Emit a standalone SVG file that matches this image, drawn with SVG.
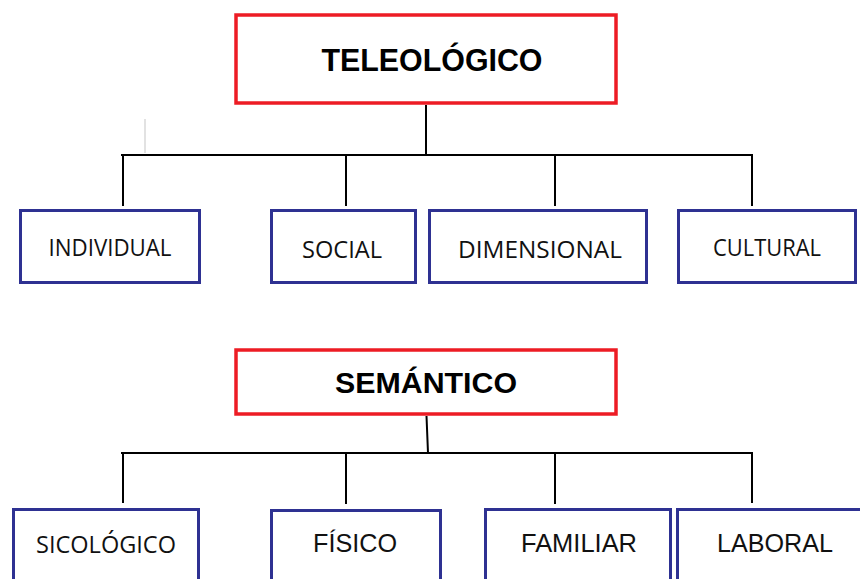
<svg xmlns="http://www.w3.org/2000/svg" width="860" height="579" viewBox="0 0 860 579">
<style>
.main{fill:#fff;stroke:#ed1c24;stroke-width:3.5}
.sub{fill:#fff;stroke:#2e3192;stroke-width:3}
.con{fill:none;stroke:#000;stroke-width:2}
.tb{font-family:"Liberation Sans",Arial,sans-serif;font-weight:bold;fill:#000;text-anchor:middle}
.tc{font-family:"Open Sans","Liberation Sans",sans-serif;font-size:23.5px;fill:#111;text-anchor:middle}
.ta{font-family:"Liberation Sans",Arial,sans-serif;font-size:25px;fill:#111;text-anchor:middle}
</style>
<rect width="860" height="579" fill="#fff"/>
<g id="connectors">
<path class="con" d="M426 105V155M121 155H753M123 155V206M346 155V206M555 155V206M752 155V206"/>
<line x1="145" y1="119" x2="145" y2="153" stroke="#d9d9d9" stroke-width="1.5"/>
<path class="con" d="M426.5 416L428 453M121 453H753M123 453V503M346 453V504M555 453V504M752 453V503"/>
</g>
<g id="teleologico">
<rect class="main" x="236" y="15" width="380" height="88"/>
<text class="tb" x="432" y="71" font-size="31" textLength="221" lengthAdjust="spacingAndGlyphs">TELEOLÓGICO</text>
</g>
<g id="individual">
<rect class="sub" x="20.5" y="210.5" width="179" height="72"/>
<text class="tc" x="110" y="256" textLength="123" lengthAdjust="spacingAndGlyphs">INDIVIDUAL</text>
</g>
<g id="social">
<rect class="sub" x="271.5" y="210.5" width="144" height="72"/>
<text class="tc" x="342" y="258" textLength="80" lengthAdjust="spacingAndGlyphs">SOCIAL</text>
</g>
<g id="dimensional">
<rect class="sub" x="429.5" y="210.5" width="217" height="72"/>
<text class="tc" x="540" y="258" textLength="164" lengthAdjust="spacingAndGlyphs">DIMENSIONAL</text>
</g>
<g id="cultural">
<rect class="sub" x="678.5" y="210.5" width="177" height="72"/>
<text class="tc" x="767" y="256" textLength="108" lengthAdjust="spacingAndGlyphs">CULTURAL</text>
</g>
<g id="semantico">
<rect class="main" x="236" y="350" width="380" height="64"/>
<text class="tb" x="426" y="393" font-size="29" textLength="182" lengthAdjust="spacingAndGlyphs">SEMÁNTICO</text>
</g>
<g id="sicologico">
<rect class="sub" x="13.5" y="509.5" width="185" height="80"/>
<text class="tc" x="106" y="553" textLength="140" lengthAdjust="spacingAndGlyphs">SICOLÓGICO</text>
</g>
<g id="fisico">
<rect class="sub" x="271.5" y="510.5" width="169" height="80"/>
<text class="ta" x="355" y="552" textLength="84" lengthAdjust="spacingAndGlyphs">FÍSICO</text>
</g>
<g id="familiar">
<rect class="sub" x="485.5" y="509.5" width="185" height="80"/>
<text class="ta" x="579" y="552" textLength="116" lengthAdjust="spacingAndGlyphs">FAMILIAR</text>
</g>
<g id="laboral">
<rect class="sub" x="677.5" y="509.5" width="190" height="80"/>
<text class="ta" x="775" y="552" textLength="116" lengthAdjust="spacingAndGlyphs">LABORAL</text>
</g>
</svg>
